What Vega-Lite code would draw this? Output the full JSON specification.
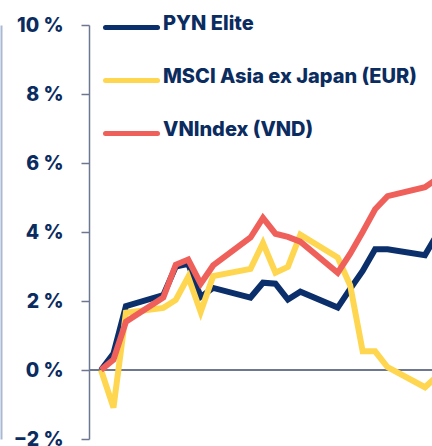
{
  "$schema": "https://vega.github.io/schema/vega-lite/v6.json",
  "width": 343,
  "height": 414,
  "autosize": {"type": "none"},
  "padding": {"left": 89, "top": 25, "right": 0, "bottom": 7},
  "background": "white",
  "config": {"view": {"stroke": null}},
  "data": {"values": [
    {"day":0,"series":"PYN Elite","v":0},{"day":1,"series":"PYN Elite","v":0.48},{"day":2,"series":"PYN Elite","v":1.85},{"day":5,"series":"PYN Elite","v":2.17},{"day":6,"series":"PYN Elite","v":3.0},{"day":7,"series":"PYN Elite","v":3.08},{"day":8,"series":"PYN Elite","v":2.12},{"day":9,"series":"PYN Elite","v":2.38},{"day":12,"series":"PYN Elite","v":2.1},{"day":13,"series":"PYN Elite","v":2.53},{"day":14,"series":"PYN Elite","v":2.5},{"day":15,"series":"PYN Elite","v":2.04},{"day":16,"series":"PYN Elite","v":2.27},{"day":19,"series":"PYN Elite","v":1.81},{"day":20,"series":"PYN Elite","v":2.35},{"day":21,"series":"PYN Elite","v":2.87},{"day":22,"series":"PYN Elite","v":3.5},{"day":23,"series":"PYN Elite","v":3.5},{"day":26,"series":"PYN Elite","v":3.33},{"day":27,"series":"PYN Elite","v":3.94},
    {"day":0,"series":"MSCI Asia ex Japan (EUR)","v":0},{"day":1,"series":"MSCI Asia ex Japan (EUR)","v":-1.09},{"day":2,"series":"MSCI Asia ex Japan (EUR)","v":1.66},{"day":5,"series":"MSCI Asia ex Japan (EUR)","v":1.8},{"day":6,"series":"MSCI Asia ex Japan (EUR)","v":2.03},{"day":7,"series":"MSCI Asia ex Japan (EUR)","v":2.7},{"day":8,"series":"MSCI Asia ex Japan (EUR)","v":1.68},{"day":9,"series":"MSCI Asia ex Japan (EUR)","v":2.72},{"day":12,"series":"MSCI Asia ex Japan (EUR)","v":2.93},{"day":13,"series":"MSCI Asia ex Japan (EUR)","v":3.68},{"day":14,"series":"MSCI Asia ex Japan (EUR)","v":2.82},{"day":15,"series":"MSCI Asia ex Japan (EUR)","v":2.99},{"day":16,"series":"MSCI Asia ex Japan (EUR)","v":3.92},{"day":19,"series":"MSCI Asia ex Japan (EUR)","v":3.26},{"day":20,"series":"MSCI Asia ex Japan (EUR)","v":2.45},{"day":21,"series":"MSCI Asia ex Japan (EUR)","v":0.54},{"day":22,"series":"MSCI Asia ex Japan (EUR)","v":0.54},{"day":23,"series":"MSCI Asia ex Japan (EUR)","v":0.08},{"day":26,"series":"MSCI Asia ex Japan (EUR)","v":-0.5},{"day":27,"series":"MSCI Asia ex Japan (EUR)","v":-0.17},
    {"day":0,"series":"VNIndex (VND)","v":0},{"day":1,"series":"VNIndex (VND)","v":0.3},{"day":2,"series":"VNIndex (VND)","v":1.4},{"day":5,"series":"VNIndex (VND)","v":2.1},{"day":6,"series":"VNIndex (VND)","v":3.05},{"day":7,"series":"VNIndex (VND)","v":3.2},{"day":8,"series":"VNIndex (VND)","v":2.5},{"day":9,"series":"VNIndex (VND)","v":3.03},{"day":12,"series":"VNIndex (VND)","v":3.84},{"day":13,"series":"VNIndex (VND)","v":4.41},{"day":14,"series":"VNIndex (VND)","v":3.95},{"day":15,"series":"VNIndex (VND)","v":3.86},{"day":16,"series":"VNIndex (VND)","v":3.72},{"day":19,"series":"VNIndex (VND)","v":2.82},{"day":20,"series":"VNIndex (VND)","v":3.37},{"day":21,"series":"VNIndex (VND)","v":4.0},{"day":22,"series":"VNIndex (VND)","v":4.66},{"day":23,"series":"VNIndex (VND)","v":5.04},{"day":26,"series":"VNIndex (VND)","v":5.3},{"day":27,"series":"VNIndex (VND)","v":5.55}
  ]},
  "layer": [
    {
      "mark": {"type": "rule", "color": "#6e7791", "strokeWidth": 1.5},
      "encoding": {
        "y": {"datum": 0, "type": "quantitative",
          "axis": {"orient": "left", "offset": 88, "labels": false, "ticks": false, "grid": false, "title": null, "domainColor": "#a9b9d3", "domainWidth": 2}}
      }
    },
    {
      "mark": {"type": "line", "strokeWidth": 6, "strokeJoin": "miter", "clip": true},
      "encoding": {
        "x": {"field": "day", "type": "quantitative", "axis": null,
          "scale": {"domain": [-0.963, 26.565], "nice": false, "zero": false}},
        "y": {"field": "v", "type": "quantitative",
          "scale": {"domain": [-2, 10], "nice": false},
          "axis": {"orient": "left", "values": [-2, 0, 2, 4, 6, 8, 10], "labelExpr": "format(datum.value, 'd') + ' %'", "title": null, "grid": false,
            "domainColor": "#6e7791", "domainWidth": 1.5, "tickColor": "#6e7791", "tickWidth": 1.5, "tickSize": 8,
            "labelFont": "Inter", "labelFontWeight": 800, "labelFontSize": 19.5, "labelColor": "#0b2c5f", "labelPadding": 18}},
        "color": {"field": "series", "type": "nominal",
          "sort": ["PYN Elite", "MSCI Asia ex Japan (EUR)", "VNIndex (VND)"],
          "scale": {"domain": ["PYN Elite", "MSCI Asia ex Japan (EUR)", "VNIndex (VND)"], "range": ["#0b2f6b", "#ffd64f", "#f0605b"]},
          "legend": {"orient": "none", "legendX": 14, "legendY": -26, "title": null, "padding": 0,
            "symbolType": "stroke", "symbolSize": 2704, "symbolStrokeWidth": 5, "rowPadding": 14, "labelOffset": 3,
            "labelFont": "Inter", "labelFontWeight": 800, "labelFontSize": 20, "labelColor": "#0b2c5f", "labelLimit": 400,
            "encode": {"symbols": {"update": {"strokeCap": {"value": "round"}}}, "labels": {"update": {"dy": {"value": -4}}}}}}
      }
    }
  ],
  "resolve": {"axis": {"y": "independent"}}
}
